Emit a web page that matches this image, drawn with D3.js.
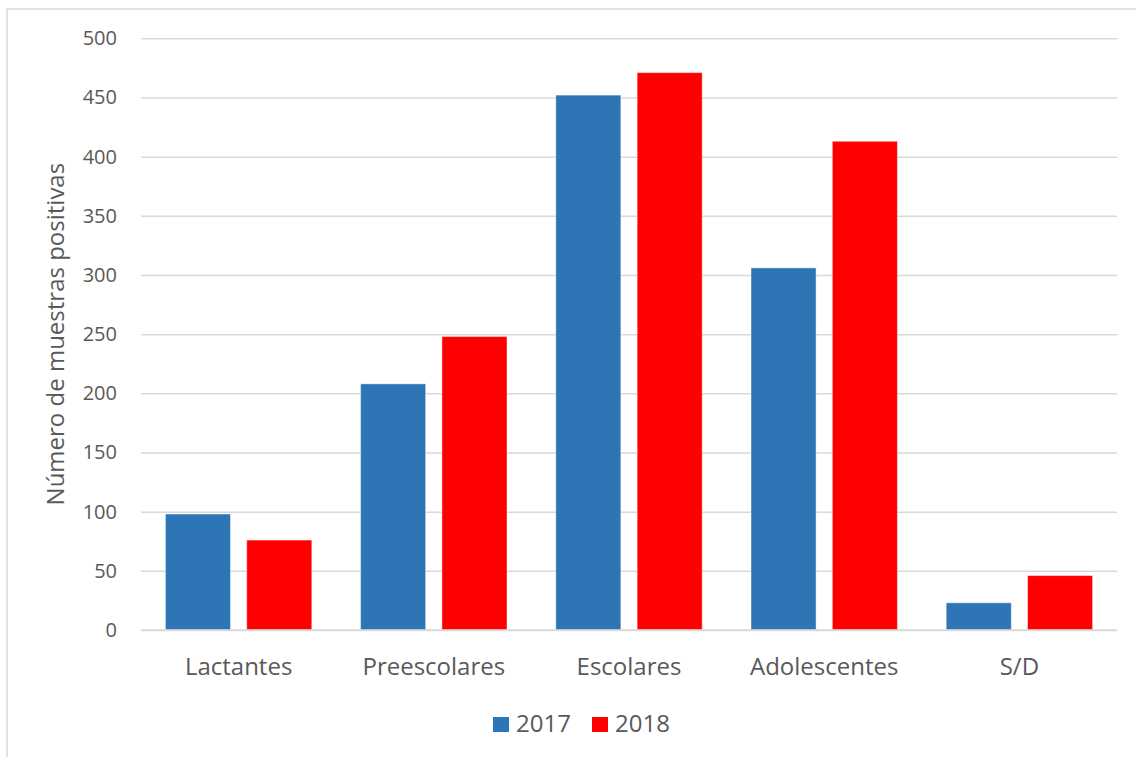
<!DOCTYPE html>
<html>
<head>
<meta charset="utf-8">
<script src="https://cdn.jsdelivr.net/npm/d3@7"></script>
<style>
  html, body { margin: 0; padding: 0; background: #fff; }
  svg { display: block; }
  text { font-family: "Open Sans", sans-serif; fill: #595959; }
</style>
</head>
<body>
<svg id="chart" width="1136" height="757"></svg>
<script>
// Grupos de edad y muestras positivas por año
const categories = ["Lactantes", "Preescolares", "Escolares", "Adolescentes", "S/D"];
const years = ["2017", "2018"];
const values2017 = [98, 208, 452, 306, 23];
const values2018 = [76, 248, 471, 413, 46];
const yTicks = [0, 50, 100, 150, 200, 250, 300, 350, 400, 450, 500];
const seriesColors = ["#2E75B6", "#FF0000"];
const yTitle = "Número de muestras positivas";

const series = [values2017, values2018];
const W = 1136, H = 757;
const plot = { left: 141, right: 1117, top: 38.3, bottom: 630 };

const svg = d3.select("#chart");

// marco del gráfico
svg.append("rect")
  .attr("x", 7).attr("y", 9)
  .attr("width", W + 10).attr("height", H + 10)
  .attr("fill", "none").attr("stroke", "#d9d9d9").attr("stroke-width", 1.5);

const x0 = d3.scaleBand().domain(categories).range([plot.left, plot.right]).paddingInner(0).paddingOuter(0);
const x1 = d3.scaleBand().domain(years).range([0, x0.bandwidth()]).paddingInner(0.2).paddingOuter(0.3);
const y = d3.scaleLinear().domain([0, 500]).range([plot.bottom, plot.top]);

// cuadrícula horizontal
const yAxis = d3.axisLeft(y).tickValues(yTicks).tickSize(-(plot.right - plot.left)).tickPadding(24);
const gy = svg.append("g").attr("transform", `translate(${plot.left},0)`).call(yAxis);
gy.select(".domain").remove();
gy.selectAll(".tick line").attr("stroke", "#d9d9d9").attr("stroke-width", 1.5);
gy.selectAll(".tick text").style("font-size", "20px").attr("fill", "#595959");

// barras
const groups = svg.append("g").selectAll("g")
  .data(categories)
  .join("g")
  .attr("transform", d => `translate(${x0(d)},0)`);

groups.selectAll("rect")
  .data((c, i) => years.map((yr, j) => ({ yr, v: series[j][i], j })))
  .join("rect")
  .attr("x", d => x1(d.yr))
  .attr("width", x1.bandwidth())
  .attr("y", d => y(d.v))
  .attr("height", d => y(0) - y(d.v))
  .attr("fill", d => seriesColors[d.j])
  .attr("stroke", "rgba(255,255,255,0.45)")
  .attr("stroke-width", 1);

// línea base del eje
svg.append("line")
  .attr("x1", plot.left).attr("x2", plot.right)
  .attr("y1", y(0)).attr("y2", y(0))
  .attr("stroke", "#d9d9d9").attr("stroke-width", 1.5);

// etiquetas de categoría
const xAxis = d3.axisBottom(x0).tickSize(0);
const gx = svg.append("g").attr("transform", `translate(0,${plot.bottom})`).call(xAxis);
gx.select(".domain").remove();
gx.selectAll(".tick text")
  .attr("y", 45).attr("dy", null)
  .style("font-size", "24px").attr("fill", "#595959");

// título del eje vertical
svg.append("text")
  .attr("transform", `translate(64,${(plot.top + plot.bottom) / 2}) rotate(-90)`)
  .attr("text-anchor", "middle")
  .style("font-size", "24px")
  .text(yTitle);

// leyenda
const legend = svg.append("g");
const legendItems = [{ label: years[0], x: 493 }, { label: years[1], x: 592 }];
legendItems.forEach((it, j) => {
  legend.append("rect")
    .attr("x", it.x).attr("y", 717)
    .attr("width", 16).attr("height", 15)
    .attr("fill", seriesColors[j]);
  legend.append("text")
    .attr("x", it.x + 23).attr("y", 732)
    .style("font-size", "24px")
    .text(it.label);
});
</script>
</body>
</html>
